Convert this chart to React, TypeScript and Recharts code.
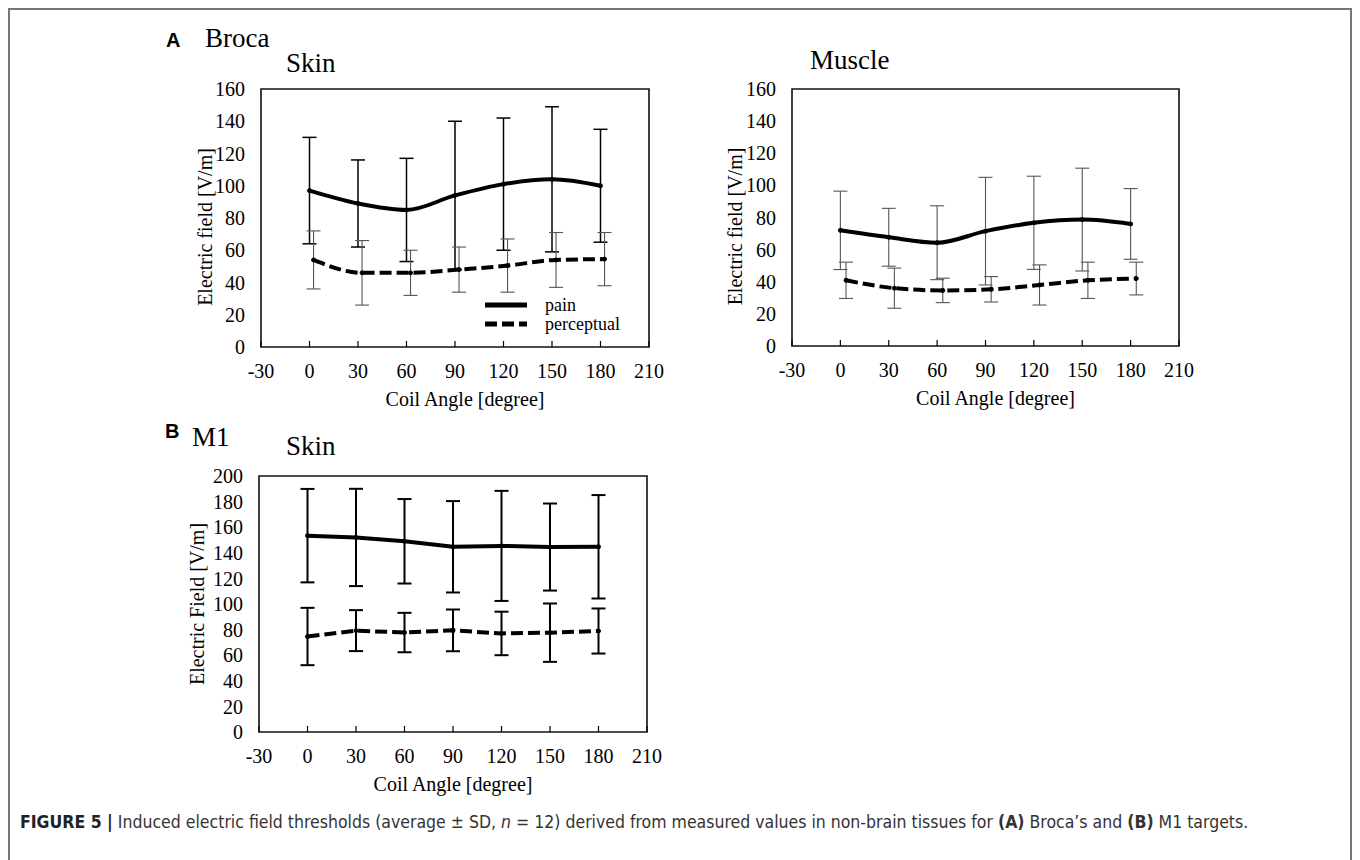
import React from 'react'
import { ErrorBar, Label, Legend, Line, LineChart, ReferenceArea, XAxis, YAxis } from 'recharts'

const SERIF = '"Liberation Serif", "Times New Roman", serif'
const SANS = '"Liberation Sans", Arial, sans-serif'

const xTicks = [-30, 0, 30, 60, 90, 120, 150, 180, 210]
const yTicksA = [0, 20, 40, 60, 80, 100, 120, 140, 160]
const yTicksB = [0, 20, 40, 60, 80, 100, 120, 140, 160, 180, 200]

const angles = [0, 30, 60, 90, 120, 150, 180]
// perceptual points are nudged right a little in the Broca panels
const anglesSkinShift = [2.5, 32.5, 62.5, 92.5, 122.5, 152.5, 182.5]
const anglesMuscleShift = [3.5, 33.5, 63.5, 93.5, 123.5, 153.5, 183.5]

// (A) Broca, skin
const brocaSkinPain = [97, 89, 85, 94, 101, 104, 100]
const brocaSkinPainSd = [33, 27, 32, 46, 41, 45, 35]
const brocaSkinPerc = [54, 46, 46, 48, 50.5, 54, 54.5]
const brocaSkinPercSd = [18, 20, 14, 14, 16.5, 17, 16.5]

// (A) Broca, muscle
const brocaMusclePain = [72, 67.7, 64.3, 71.5, 76.7, 78.7, 76]
const brocaMusclePainSd = [24.4, 18, 23, 33.5, 29, 32, 22]
const brocaMusclePerc = [40.9, 36, 34.6, 35.3, 38, 40.9, 42]
const brocaMusclePercSd = [11.3, 12.5, 7.6, 7.9, 12.5, 11.3, 10.2]

// (B) M1, skin
const m1SkinPain = [153.4, 152, 149, 144.7, 145.4, 144.5, 144.7]
const m1SkinPainSd = [36.5, 38, 33, 35.7, 43, 34, 40.4]
const m1SkinPerc = [74.6, 79.2, 77.7, 79.4, 77, 77.6, 78.9]
const m1SkinPercSd = [22.4, 16, 15.4, 16.3, 17, 22.8, 17.6]

type Row = { x: number; y: number; err: number }
const rows = (xs: number[], ys: number[], sd: number[]): Row[] =>
  xs.map((x, i) => ({ x, y: ys[i], err: sd[i] }))

type Series = {
  name: string
  data: Row[]
  dash?: string
  errColor: string
  errWidth: number
}

const LEFT = 130
const TOP = 20
const RIGHT = 30
const BOTTOM = 75

function xTitle(shift: number) {
  return (props: any) => {
    const { x, y, width } = props.viewBox
    return (
      <text
        x={x + width / 2 + shift}
        y={y + 52}
        textAnchor="middle"
        dominantBaseline="central"
        fill="#000"
        style={{ fontFamily: SERIF, fontSize: 20 }}
      >
        Coil Angle [degree]
      </text>
    )
  }
}

function yTitle(text: string, gap: number, shift: number) {
  return (props: any) => {
    const { x, y, width, height } = props.viewBox
    const cx = x + width - gap
    const cy = y + height / 2 + shift
    return (
      <text
        x={cx}
        y={cy}
        transform={`rotate(-90 ${cx} ${cy})`}
        textAnchor="middle"
        dominantBaseline="central"
        fill="#000"
        style={{ fontFamily: SERIF, fontSize: 20 }}
      >
        {text}
      </text>
    )
  }
}

function legendBox(series: Series[]) {
  return () => (
    <div>
      {series.map((s) => (
        <div key={s.name} style={{ display: 'flex', alignItems: 'center', height: 19 }}>
          <svg width={44} height={8}>
            <line x1={0} y1={4} x2={42} y2={4} stroke="#000" strokeWidth={5} strokeDasharray={s.dash} />
          </svg>
          <span style={{ marginLeft: 16, fontFamily: SERIF, fontSize: 18, color: '#000', lineHeight: '18px' }}>
            {s.name}
          </span>
        </div>
      ))}
    </div>
  )
}

interface PanelProps {
  plotX: number
  plotY: number
  plotW: number
  plotH: number
  yMax: number
  yTicks: number[]
  yLabel: string
  yGap: number
  yShift: number
  xShift: number
  curve: 'monotone' | 'linear'
  series: Series[]
  legendAt?: { x: number; y: number }
}

function Panel(p: PanelProps) {
  const chartX = p.plotX - LEFT
  const chartY = p.plotY - TOP
  return (
    <div style={{ position: 'absolute', left: chartX - 8, top: chartY - 8 }}>
      <LineChart
        width={LEFT + p.plotW + RIGHT}
        height={TOP + p.plotH + BOTTOM}
        margin={{ top: TOP, right: RIGHT, left: LEFT - 100, bottom: 0 }}
      >
        <XAxis
          type="number"
          dataKey="x"
          domain={[-30, 210]}
          ticks={xTicks}
          interval={0}
          height={BOTTOM}
          axisLine={false}
          tickSize={-6}
          tickMargin={23}
          tickLine={{ stroke: '#000', strokeWidth: 1.2 }}
          tick={{ fontFamily: SERIF, fontSize: 20, fill: '#000' }}
          allowDataOverflow
        >
          <Label content={xTitle(p.xShift)} />
        </XAxis>
        <YAxis
          type="number"
          domain={[0, p.yMax]}
          ticks={p.yTicks}
          interval={0}
          width={100}
          axisLine={false}
          tickLine={false}
          tickSize={6}
          tickMargin={10}
          tick={{ fontFamily: SERIF, fontSize: 20, fill: '#000' }}
          allowDataOverflow
        >
          <Label content={yTitle(p.yLabel, p.yGap, p.yShift)} />
        </YAxis>
        <ReferenceArea x1={-30} x2={210} y1={0} y2={p.yMax} fill="none" stroke="#111" strokeWidth={1.6} />
        {p.series.map((s) => (
          <Line
            key={s.name}
            name={s.name}
            data={s.data}
            dataKey="y"
            type={p.curve}
            stroke="#000"
            strokeWidth={4}
            strokeDasharray={s.dash}
            dot={{ r: 2, fill: '#000', stroke: '#000', strokeWidth: 1 }}
            activeDot={false}
            isAnimationActive={false}
          >
            <ErrorBar
              dataKey="err"
              direction="y"
              width={7}
              stroke={s.errColor}
              strokeWidth={s.errWidth}
              isAnimationActive={false}
            />
          </Line>
        ))}
        {p.legendAt && (
          <Legend
            layout="vertical"
            align="center"
            verticalAlign="middle"
            content={legendBox(p.series)}
            wrapperStyle={{ left: p.legendAt.x - chartX, top: p.legendAt.y - chartY, width: 'auto' }}
          />
        )}
      </LineChart>
    </div>
  )
}

const brocaSkin: Series[] = [
  { name: 'pain', data: rows(angles, brocaSkinPain, brocaSkinPainSd), errColor: '#000', errWidth: 1.5 },
  { name: 'perceptual', data: rows(anglesSkinShift, brocaSkinPerc, brocaSkinPercSd), dash: '12 5', errColor: '#555', errWidth: 1.1 },
]
const brocaMuscle: Series[] = [
  { name: 'pain', data: rows(angles, brocaMusclePain, brocaMusclePainSd), errColor: '#555', errWidth: 1.1 },
  { name: 'perceptual', data: rows(anglesMuscleShift, brocaMusclePerc, brocaMusclePercSd), dash: '12 5', errColor: '#555', errWidth: 1.1 },
]
const m1Skin: Series[] = [
  { name: 'pain', data: rows(angles, m1SkinPain, m1SkinPainSd), errColor: '#000', errWidth: 2 },
  { name: 'perceptual', data: rows(angles, m1SkinPerc, m1SkinPercSd), dash: '12 5', errColor: '#000', errWidth: 2 },
]

function Title({ x, cy, size, children, sans }: { x: number; cy: number; size: number; children: React.ReactNode; sans?: boolean }) {
  return (
    <div
      style={{
        position: 'absolute',
        left: x - 8,
        top: cy - size / 2 - 8,
        fontFamily: sans ? SANS : SERIF,
        fontWeight: sans ? 700 : 400,
        fontSize: size,
        lineHeight: 1,
        whiteSpace: 'nowrap',
        color: '#000',
      }}
    >
      {children}
    </div>
  )
}

export default function App() {
  return (
    <div style={{ position: 'relative', width: 1344, height: 852 }}>
      <div
        style={{
          position: 'absolute',
          left: 0,
          top: 0,
          width: 1344,
          height: 870,
          boxSizing: 'border-box',
          borderTop: '2px solid #777',
          borderLeft: '2px solid #777',
          borderRight: '2px solid #777',
        }}
      />
      <Title x={166} cy={40} size={20} sans>A</Title>
      <Title x={205} cy={38} size={27}>Broca</Title>
      <Title x={286} cy={63} size={27}>Skin</Title>
      <Title x={810} cy={60} size={27}>Muscle</Title>
      <Title x={165} cy={431} size={20} sans>B</Title>
      <Title x={192} cy={437} size={27}>M1</Title>
      <Title x={286} cy={446} size={27}>Skin</Title>

      <Panel
        plotX={261} plotY={89} plotW={388} plotH={258}
        yMax={160} yTicks={yTicksA} yLabel="Electric field [V/m]" yGap={56} yShift={9} xShift={10}
        curve="monotone" series={brocaSkin} legendAt={{ x: 485, y: 295 }}
      />
      <Panel
        plotX={792} plotY={89} plotW={387} plotH={257}
        yMax={160} yTicks={yTicksA} yLabel="Electric field [V/m]" yGap={57} yShift={9} xShift={10}
        curve="monotone" series={brocaMuscle}
      />
      <Panel
        plotX={259} plotY={476} plotW={388} plotH={256}
        yMax={200} yTicks={yTicksB} yLabel="Electric Field [V/m]" yGap={62} yShift={0} xShift={0}
        curve="linear" series={m1Skin}
      />

      <div
        style={{
          position: 'absolute',
          left: 12,
          top: 806,
          fontFamily: '"Liberation Sans Narrow", "DejaVu Sans Condensed", ' + SANS,
          fontSize: 17.5,
          lineHeight: 1,
          whiteSpace: 'nowrap',
          color: '#333',
        }}
      >
        <b style={{ color: '#222' }}>FIGURE 5 |</b> Induced electric field thresholds (average ± SD, <i>n</i> = 12)
        derived from measured values in non-brain tissues for <b>(A)</b> Broca’s and <b>(B)</b> M1 targets.
      </div>
    </div>
  )
}
